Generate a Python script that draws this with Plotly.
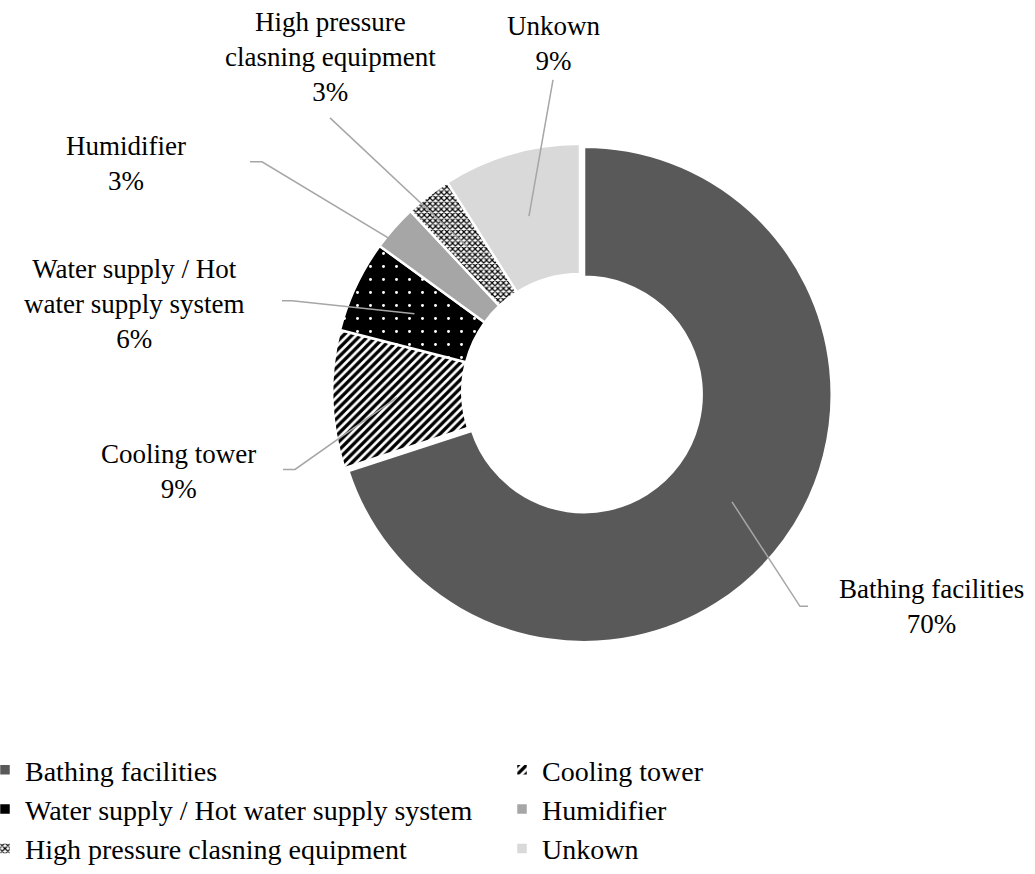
import math
import plotly.graph_objects as go

# Legionella outbreak sources (share of cases, %)
categories = [
    "Bathing facilities",
    "Cooling tower",
    "Water supply / Hot water supply system",
    "Humidifier",
    "High pressure clasning equipment",
    "Unkown",
]
values = [70, 9, 6, 3, 3, 9]
# wrapped versions of the category names for the outside labels
label_names = [
    "Bathing facilities",
    "Cooling tower",
    "Water supply / Hot<br>water supply system",
    "Humidifier",
    "High pressure<br>clasning equipment",
    "Unkown",
]

W, H = 1035, 874
FONT = "Liberation Serif, Times New Roman, serif"
FS = 27

fill_colors = ["#595959", "#ffffff", "#000000", "#a6a6a6", "#ffffff", "#d9d9d9"]
pattern_shapes = ["", "/", ".", "", "x", ""]
pattern_fg = ["#595959", "#000000", "#ffffff", "#a6a6a6", "#000000", "#d9d9d9"]
pattern_size = [8, 6, 13, 8, 4, 8]
pattern_solidity = [0.3, 0.55, 0.04, 0.3, 0.5, 0.3]
pulls = [0.02, 0, 0, 0, 0, 0]

# pie geometry in pixels
cx, cy = 580, 392
radius = 248
hole = 0.475
max_pull = max(pulls)
half = radius * (1 + max_pull)


def px(x):
    return x / W


def py(y):
    return 1 - y / H


fig = go.Figure()
fig.add_trace(go.Pie(
    labels=categories,
    values=values,
    sort=False,
    direction="clockwise",
    rotation=0,
    hole=hole,
    pull=pulls,
    textinfo="none",
    hoverinfo="label+percent",
    marker=dict(
        colors=fill_colors,
        line=dict(color="white", width=2.5),
        pattern=dict(
            shape=pattern_shapes,
            fgcolor=pattern_fg,
            bgcolor=fill_colors,
            size=pattern_size,
            solidity=pattern_solidity,
        ),
    ),
    domain=dict(x=[px(cx - half), px(cx + half)], y=[py(cy + half), py(cy - half)]),
))

# outside label placement (text block centres) and leader-line elbows, in pixels
label_pos = [(931, 607), (178, 472), (134, 304), (126, 164), (330, 57), (553, 44)]
leader_start = [(808, 607), (283, 470), (282, 301), (250, 162), (330, 118), (553, 80)]
leader_elbow = [(800, 607), (295, 470), (292, 301), (262, 162), None, None]

total = sum(values)
mid_r = radius * (1 + hole) / 2
cum = 0
for i, v in enumerate(values):
    a0 = cum / total * 2 * math.pi
    cum += v
    a1 = cum / total * 2 * math.pi
    mid = (a0 + a1) / 2
    off = pulls[i] * radius
    sx = cx + (mid_r + off) * math.sin(mid)
    sy = cy - (mid_r + off) * math.cos(mid)

    pts = [leader_start[i]]
    if leader_elbow[i] is not None:
        pts.append(leader_elbow[i])
    pts.append((sx, sy))
    path = "M " + " L ".join(f"{px(x):.5f},{py(y):.5f}" for x, y in pts)
    fig.add_shape(type="path", path=path, xref="paper", yref="paper",
                  line=dict(color="#a6a6a6", width=1.5))

    lx, ly = label_pos[i]
    fig.add_annotation(
        x=px(lx), y=py(ly), xref="paper", yref="paper",
        text=f"{label_names[i]}<br>{round(v / total * 100)}%",
        showarrow=False, xanchor="center", yanchor="middle", align="center",
        font=dict(family=FONT, size=FS, color="#000000"),
    )

fig.update_layout(
    width=W, height=H,
    margin=dict(l=0, r=0, t=0, b=0),
    paper_bgcolor="white",
    plot_bgcolor="white",
    font=dict(family=FONT, size=FS, color="#000000"),
    showlegend=True,
    legend=dict(
        orientation="h",
        x=0, xanchor="left",
        y=py(810), yanchor="middle",
        indentation=-15,
        font=dict(family=FONT, size=28, color="#000000"),
        entrywidth=487,
        bgcolor="rgba(0,0,0,0)",
        traceorder="normal",
    ),
)

fig.write_html("out.html")
